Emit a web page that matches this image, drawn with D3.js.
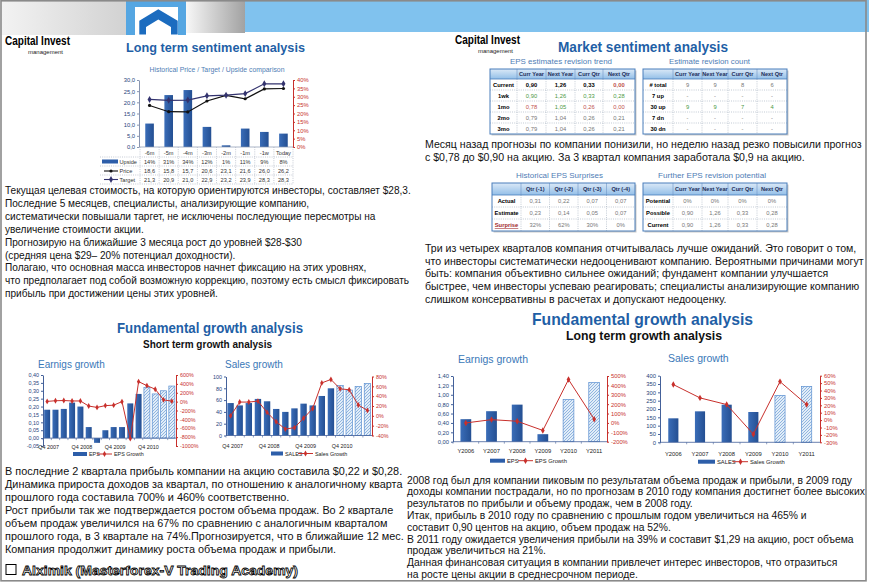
<!DOCTYPE html>
<html><head><meta charset="utf-8">
<script src="https://cdn.jsdelivr.net/npm/d3@7"></script>
<style>body{margin:0;background:#fff}svg{display:block}text{font-family:Arial,"Liberation Sans",sans-serif}</style>
</head><body><svg id="c" width="869" height="583"></svg>
<script>
// ================= DATA =================
// Long term sentiment (Historical Price / Target / Upside)
const sentCategories = ["-6m","-5m","-4m","-3m","-2m","-1m","-1w","Today"];
const sentUpside = [14,31,34,12,1,11,9,8];
const sentPrice = [18.6,15.8,15.7,20.6,23.1,21.6,26.0,26.2];
const sentTarget = [21.3,20.9,21.0,22.9,23.2,23.9,28.3,28.3];
const sentLeftTicks = [0,5,10,15,20,25,30];
const sentRightTicks = [0,5,10,15,20,25,30,35,40];

// Market sentiment tables
const revCols = ["Curr Year","Next Year","Curr Qtr","Next Qtr"];
const trendRows = ["Current","1wk","1mo","2mo","3mo"];
const trendValues = [[0.90,1.26,0.33,0.00],[0.90,1.26,0.33,0.28],[0.78,1.05,0.26,0.00],[0.79,1.04,0.26,0.21],[0.79,1.04,0.26,0.21]];
const countRows = ["# total","7 up","30 up","7 dn","30 dn"];
const countValues = [[9,9,8,6],[null,null,null,null],[9,9,7,4],[null,null,null,null],[null,null,null,null]];
const surpriseCols = ["Qtr (-1)","Qtr (-2)","Qtr (-3)","Qtr (-4)"];
const surpriseRows = ["Actual","Estimate","Surprise"];
const surpriseActual = [0.31,0.22,0.07,0.07];
const surpriseEstimate = [0.23,0.14,0.05,0.07];
const surprisePct = [32,62,30,0];
const potentialRows = ["Potential","Possible","Current"];
const potentialPct = [0,0,0,0];
const potentialPossible = [0.90,1.26,0.33,0.28];
const potentialCurrent = [0.90,1.26,0.33,0.28];

// Short term growth (quarterly)
const stQuarters = ["Q4 2007","Q1 2008","Q2 2008","Q3 2008","Q4 2008","Q1 2009","Q2 2009","Q3 2009","Q4 2009","Q1 2010","Q2 2010","Q3 2010","Q4 2010","Q1 2011","Q2 2011","Q3 2011"];
const stEps = [0.18,0.18,0.185,0.225,0.20,0.07,-0.03,0.05,0.07,0.07,0.22,0.28,0.32,0.28,0.30,0.33];
const stEpsGrowth = [5,20,25,15,15,-100,-130,-90,-80,0,-830,450,360,280,40,10];
const stSales = [55,51,55,62,58,45,40,46,54,51,67,80,85,77,83,88];
const stSalesGrowth = [0,28,28,30,7,-12,-27,-24,-5,15,67,74,55,53,22,11];
const stForecast = [false,false,false,false,false,false,false,false,false,false,false,false,true,true,true,true];
const stEpsLeftTicks = [-0.05,0,0.05,0.10,0.15,0.20,0.25,0.30,0.35,0.40];
const stEpsRightTicks = [-1000,-800,-600,-400,-200,0,200,400,600];
const stSalesLeftTicks = [0,20,40,60,80,100];
const stSalesRightTicks = [-40,-20,0,20,40,60,80];
const stLabelled = ["Q4 2007","Q4 2008","Q4 2009","Q4 2010"];

// Long term growth (yearly)
const ltYears = ["Y2006","Y2007","Y2008","Y2009","Y2010","Y2011"];
const ltEps = [0.48,0.65,0.79,0.16,0.90,1.26];
const ltEpsGrowth = [0,35,18,-80,462,40];
const ltSales = [144,186,226,182,282,336];
const ltSalesGrowth = [48,30,21,-19,52,21];
const ltForecast = [false,false,false,false,true,true];
const ltEpsLeftTicks = [0,0.2,0.4,0.6,0.8,1.0,1.2,1.4];
const ltEpsRightTicks = [-200,-100,0,100,200,300,400,500];
const ltSalesLeftTicks = [0,50,100,150,200,250,300,350,400];
const ltSalesRightTicks = [-30,-20,-10,0,10,20,30,40,50,60];

// Texts
const textSentiment = [
"Текущая целевая стоимость, на которую ориентируются инвесторы, составляет $28,3.",
"Последние 5 месяцев, специалисты, анализирующие компанию,",
"систематически повышали таргет, не исключены последующие пересмотры на",
"увеличение стоимости акции.",
"Прогнозирую на ближайшие 3 месяца рост до уровней $28-$30",
"(средняя цена $29– 20% потенциал доходности).",
"Полагаю, что основная масса инвесторов начнет фиксацию на этих уровнях,",
"что предполагает под собой возможную коррекцию, поэтому есть смысл фиксировать",
"прибыль при достижении цены этих уровней."];
const textRevision = [
"Месяц назад прогнозы по компании понизили, но неделю назад резко повысили прогноз",
"с $0,78 до $0,90 на акцию. За 3 квартал компания заработала $0,9 на акцию."];
const textSurprise = [
"Три из четырех кварталов компания отчитывалась лучше ожиданий. Это говорит о том,",
"что инвесторы систематически недооценивают компанию. Вероятными причинами могут",
"быть: компания объективно сильнее ожиданий; фундамент компании улучшается",
"быстрее, чем инвесторы успеваю реагировать; специалисты анализирующие компанию",
"слишком консервативны в расчетах и допускают недооценку."];
const textShortTerm = [
"В последние 2 квартала прибыль компании на акцию составила $0,22 и $0,28.",
"Динамика прироста доходов за квартал, по отношению к аналогичному кварта",
"прошлого года составила 700% и 460% соответственно.",
"Рост прибыли так же подтверждается ростом объема продаж. Во 2 квартале",
"объем продаж увеличился на 67% по сравнению с аналогичным кварталом",
"прошлого года, в 3 квартале на 74%.Прогнозируется, что в ближайшие 12 мес.",
"Компания продолжит динамику роста объема продаж и прибыли."];
const textLongTerm = [
"2008 год был для компании пиковым по результатам объема продаж и прибыли, в 2009 году",
"доходы компании пострадали, но по прогнозам в 2010 году компания достигнет более высоких",
"результатов по прибыли и объему продаж, чем в 2008 году.",
"Итак, прибыль в 2010 году по сравнению с прошлым годом увеличиться на 465% и",
"составит 0,90 центов на акцию, объем продаж на 52%.",
"В 2011 году ожидается увеличения прибыли на 39% и составит $1,29 на акцию, рост объема",
"продаж увеличиться на 21%.",
"Данная финансовая ситуация в компании привлечет интерес инвесторов, что отразиться",
"на росте цены акции в среднесрочном периоде."];
const signature = "Alximik (Masterforex-V Trading Academy)";

// ================= STYLE =================
const BAR = "#2d5ea9", RED = "#c8302c", NAVY = "#26437a", TITLE = "#1f5fa6", SUB = "#4f7db5";
const G = "#4c9a44", R = "#c0504d", N = "#777", K = "#000";
const trendTone = [[K,K,K,R],[G,G,G,G],[R,G,R,R],[N,N,N,N],[N,N,N,N]];

const fmt = spec => v => d3.format(spec)(v).replace("−","-").replace(".",",");
const pct = v => d3.format("d")(v).replace("−","-") + "%";

const svg = d3.select("#c");
const defs = svg.append("defs");
function lin(id, stops, x2, y2) {
  const g = defs.append("linearGradient").attr("id", id).attr("x1","0%").attr("y1","0%").attr("x2",x2).attr("y2",y2);
  stops.forEach(s => g.append("stop").attr("offset", s[0]).attr("stop-color", s[1]));
}
lin("gLeft", [["0%","#f3f3f3"],["100%","#d2d2d2"]], "100%", "0%");
lin("gMid", [["0%","#f7f7f7"],["100%","#a2a2a2"]], "100%", "0%");
lin("gHead", [["0%","#dbe9f7"],["100%","#93bfe8"]], "0%", "100%");
lin("gBar", [["0%","#3a6db8"],["100%","#244f92"]], "100%", "0%");
const pat = defs.append("pattern").attr("id","hatch").attr("patternUnits","userSpaceOnUse").attr("width",3).attr("height",3);
pat.append("rect").attr("width",3).attr("height",3).attr("fill","#e2edf8");
pat.append("path").attr("d","M0,3L3,0M-1,1L1,-1M2,4L4,2").attr("stroke","#7ba7d8").attr("stroke-width",0.8);

svg.append("rect").attr("width",869).attr("height",583).attr("fill","#fff");

// ---------- header ----------
svg.append("rect").attr("x",0).attr("y",0).attr("width",126).attr("height",35).attr("fill","url(#gLeft)");
svg.append("rect").attr("x",126).attr("y",0).attr("width",60).attr("height",35).attr("fill","#55a6e2");
svg.append("rect").attr("x",135).attr("y",7).attr("width",43).attr("height",28).attr("fill","#fff");
svg.append("polygon").attr("points","139.3,34.5 139.3,20.7 158.3,9.3 177.7,20.7 177.7,34.5 171,34.5 171,27 158.3,19.5 146,27 146,34.5").attr("fill","#1c6cbf");
svg.append("rect").attr("x",186).attr("y",0).attr("width",59).attr("height",33).attr("fill","url(#gMid)");
svg.append("rect").attr("x",245).attr("y",0).attr("width",624).attr("height",32).attr("fill","#80c2ee");

// frame
svg.append("rect").attr("x",1).attr("y",0.8).attr("width",865).attr("height",580).attr("fill","none").attr("stroke","#8a8a8a").attr("stroke-width",1.6);

// ---------- helpers ----------
function txt(s, x, y, size, opts = {}) {
  const t = svg.append("text").attr("x", x).attr("y", y).attr("font-size", size).text(s)
    .attr("fill", opts.fill || "#000").attr("font-weight", opts.bold ? "bold" : null)
    .attr("text-anchor", opts.anchor || "start");
  if (opts.width) t.attr("textLength", opts.width).attr("lengthAdjust", "spacingAndGlyphs");
  return t;
}
function block(lines, x, y0, lh, refIdx, targetW) {
  const t = svg.append("g").selectAll("text").data(lines).join("text")
    .attr("x", x).attr("y", (d, i) => y0 + i * lh).attr("font-size", 10).attr("fill", "#111").text(d => d);
  const w = t.nodes()[refIdx].getComputedTextLength();
  t.attr("font-size", 10 * targetW / w);
}
function logo(x, y) {
  txt("Capital Invest", x, y, 12, {bold: true, width: 65});
  txt("management", x + 23, y + 8.5, 6, {fill: "#222"});
}
function styleAxis(a, color, fs, lineColor) {
  a.attr("font-family", null).attr("font-size", fs);
  a.selectAll("text").attr("fill", color);
  a.selectAll("line").attr("stroke", lineColor);
  a.select(".domain").attr("stroke", lineColor);
}

// ---------- table ----------
function table(o) {
  const g = svg.append("g");
  const x0 = o.cx[0], x1 = o.cx[o.cx.length - 1], y0 = o.y, y1 = o.y + o.hh + o.rows.length * o.rh;
  g.append("rect").attr("x", x0 + 1.5).attr("y", y0 + 1.5).attr("width", x1 - x0).attr("height", y1 - y0).attr("fill", "#c9c9c9");
  g.append("rect").attr("x", x0).attr("y", y0).attr("width", x1 - x0).attr("height", y1 - y0).attr("fill", "#fff");
  g.append("rect").attr("x", x0).attr("y", y0).attr("width", x1 - x0).attr("height", o.hh).attr("fill", "url(#gHead)");
  o.rows.forEach((r, i) => {
    if (i > 0) g.append("line").attr("x1", x0).attr("x2", x1).attr("y1", y0 + o.hh + i * o.rh).attr("y2", y0 + o.hh + i * o.rh)
      .attr("stroke", "#9aa7b8").attr("stroke-width", 0.6).attr("stroke-dasharray", "1,1.2");
  });
  o.cx.slice(1, -1).forEach(cx => {
    g.append("line").attr("x1", cx).attr("x2", cx).attr("y1", y0).attr("y2", y0 + o.hh).attr("stroke", "#6f95c6").attr("stroke-width", 0.6);
    g.append("line").attr("x1", cx).attr("x2", cx).attr("y1", y0 + o.hh).attr("y2", y1).attr("stroke", "#9aa7b8").attr("stroke-width", 0.6).attr("stroke-dasharray", "1,1.2");
  });
  g.append("line").attr("x1", x0).attr("x2", x1).attr("y1", y0 + o.hh).attr("y2", y0 + o.hh).attr("stroke", "#4a7ebb").attr("stroke-width", 0.8);
  g.append("rect").attr("x", x0).attr("y", y0).attr("width", x1 - x0).attr("height", y1 - y0).attr("fill", "none").attr("stroke", "#4a7ebb").attr("stroke-width", 1);
  const mid = i => (o.cx[i] + o.cx[i + 1]) / 2;
  o.cols.forEach((c, j) => {
    g.append("text").attr("x", mid(j + 1)).attr("y", y0 + o.hh / 2 + 2).attr("text-anchor", "middle").attr("font-size", 5.6)
      .attr("font-weight", "bold").attr("fill", "#1f2f5a").text(c);
  });
  o.rows.forEach((r, i) => {
    const yc = y0 + o.hh + (i + 0.5) * o.rh + 2;
    const lt = g.append("text").attr("x", mid(0)).attr("y", yc).attr("text-anchor", "middle").attr("font-size", 5.8)
      .attr("font-weight", "bold").attr("fill", o.labelFill ? o.labelFill(i) : "#000").text(r);
    if (o.labelDeco && o.labelDeco(i)) lt.attr("text-decoration", "underline");
    o.cells[i].forEach((v, j) => {
      g.append("text").attr("x", mid(j + 1)).attr("y", yc).attr("text-anchor", "middle").attr("font-size", 5.8)
        .attr("font-weight", o.cellBold && o.cellBold(i, j) ? "bold" : null)
        .attr("fill", o.tone ? o.tone(i, j) : N).text(v);
    });
  });
}

// ---------- combo chart ----------
function combo(o) {
  const g = svg.append("g");
  const x = d3.scaleBand().domain(o.cats).range([o.x0, o.x1]).paddingInner(o.pad).paddingOuter(o.pad / 2);
  const yl = d3.scaleLinear().domain(o.lDom).range([o.yBot, o.yTop]);
  const yr = d3.scaleLinear().domain(o.rDom).range([o.yBot, o.yTop]);
  const bw = x.bandwidth();
  const cx = c => x(c) + bw / 2;
  g.selectAll("rect.bar").data(o.bars).join("rect").attr("class", "bar")
    .attr("x", (d, i) => x(o.cats[i])).attr("width", bw)
    .attr("y", d => Math.min(yl(d), yl(0))).attr("height", d => Math.abs(yl(d) - yl(0)))
    .attr("fill", (d, i) => o.forecast[i] ? "url(#hatch)" : "url(#gBar)")
    .attr("stroke", (d, i) => o.forecast[i] ? "#5b8fd0" : "none").attr("stroke-width", 0.7);
  const la = g.append("g").attr("transform", `translate(${o.x0},0)`)
    .call(d3.axisLeft(yl).tickValues(o.lTicks).tickFormat(o.lFmt).tickSize(2).tickSizeOuter(0).tickPadding(2));
  styleAxis(la, NAVY, o.fs, "#44619a");
  const ra = g.append("g").attr("transform", `translate(${o.x1},0)`)
    .call(d3.axisRight(yr).tickValues(o.rTicks).tickFormat(o.rFmt).tickSize(2).tickSizeOuter(0).tickPadding(2));
  styleAxis(ra, RED, o.fs, RED);
  g.append("line").attr("x1", o.x0).attr("x2", o.x1).attr("y1", yl(0)).attr("y2", yl(0)).attr("stroke", "#44619a").attr("stroke-width", 0.8);
  g.selectAll("line.xt").data(o.cats).join("line").attr("class", "xt")
    .attr("x1", c => x(c) - x.step() * o.pad / 2).attr("x2", c => x(c) - x.step() * o.pad / 2)
    .attr("y1", yl(0)).attr("y2", yl(0) + 2).attr("stroke", "#44619a").attr("stroke-width", 0.6);
  g.selectAll("text.xl").data(o.cats.filter(o.showLabel)).join("text").attr("class", "xl")
    .attr("x", c => cx(c) + (o.labelDx || 0)).attr("y", o.labelY).attr("text-anchor", "middle").attr("font-size", o.fs).attr("fill", "#222").text(c => c);
  g.append("path").datum(o.line).attr("fill", "none").attr("stroke", RED).attr("stroke-width", 1)
    .attr("d", d3.line().x((d, i) => cx(o.cats[i])).y(d => yr(d)));
  g.selectAll("path.mk").data(o.line).join("path").attr("class", "mk")
    .attr("transform", (d, i) => `translate(${cx(o.cats[i])},${yr(d)})`)
    .attr("d", d3.symbol(d3.symbolDiamond, o.mk)).attr("fill", RED);
  txt(o.title, o.tx, o.ty, o.tfs, {fill: "#3a78b8"});
  const L = o.leg;
  g.append("rect").attr("x", L.x).attr("y", L.y - 2).attr("width", L.sw).attr("height", 4).attr("fill", BAR);
  g.append("text").attr("x", L.x + L.sw + 2).attr("y", L.y + 2).attr("font-size", o.fs).attr("fill", "#222").text(L.bar);
  g.append("line").attr("x1", L.lx).attr("x2", L.lx + L.lw).attr("y1", L.y).attr("y2", L.y).attr("stroke", RED).attr("stroke-width", 1);
  g.append("path").attr("transform", `translate(${L.lx + L.lw / 2},${L.y})`).attr("d", d3.symbol(d3.symbolDiamond, o.mk)).attr("fill", RED);
  g.append("text").attr("x", L.lx + L.lw + 2).attr("y", L.y + 2).attr("font-size", o.fs).attr("fill", "#222").text(L.line);
}

// ================= LEFT TOP: sentiment =================
logo(5, 45);
txt("Long term sentiment analysis", 126, 51.5, 13.5, {bold: true, fill: TITLE, width: 179});
txt("Historical Price / Target / Upside comparison", 217, 71.5, 6.3, {fill: SUB, anchor: "middle", width: 135});
(function () {
  const g = svg.append("g");
  const x = d3.scaleBand().domain(sentCategories).range([140, 293]).paddingInner(0.55).paddingOuter(0.275);
  const yl = d3.scaleLinear().domain([0, 30]).range([147, 80]);
  const yr = d3.scaleLinear().domain([0, 40]).range([147, 80]);
  const bw = x.bandwidth(), st = x.step();
  const cx = c => x(c) + bw / 2;
  const left = c => x(c) - st * 0.275;
  g.selectAll("rect").data(sentUpside).join("rect")
    .attr("x", (d, i) => x(sentCategories[i])).attr("width", bw)
    .attr("y", d => yr(d)).attr("height", d => yr(0) - yr(d)).attr("fill", "url(#gBar)");
  const la = g.append("g").attr("transform", "translate(139,0)")
    .call(d3.axisLeft(yl).tickValues(sentLeftTicks).tickFormat(fmt(".1f")).tickSize(2).tickSizeOuter(0).tickPadding(2));
  styleAxis(la, NAVY, 5.8, "#8895b0");
  const ra = g.append("g").attr("transform", "translate(293,0)")
    .call(d3.axisRight(yr).tickValues(sentRightTicks).tickFormat(pct).tickSize(2).tickSizeOuter(0).tickPadding(2));
  styleAxis(ra, RED, 5.8, RED);
  g.append("path").datum(sentPrice).attr("fill", "none").attr("stroke", "#111").attr("stroke-width", 1.2)
    .attr("d", d3.line().x((d, i) => cx(sentCategories[i])).y(d => yl(d)));
  g.selectAll("circle.p").data(sentPrice).join("circle").attr("class", "p")
    .attr("cx", (d, i) => cx(sentCategories[i])).attr("cy", d => yl(d)).attr("r", 1.6).attr("fill", "#111");
  g.append("path").datum(sentTarget).attr("fill", "none").attr("stroke", "#33336e").attr("stroke-width", 1.2)
    .attr("d", d3.line().x((d, i) => cx(sentCategories[i])).y(d => yl(d)));
  g.selectAll("path.t").data(sentTarget).join("path").attr("class", "t")
    .attr("transform", (d, i) => `translate(${cx(sentCategories[i])},${yl(d)})`)
    .attr("d", d3.symbol(d3.symbolDiamond, 14)).attr("fill", "#33336e");
  g.append("line").attr("x1", 140).attr("x2", 293).attr("y1", 147).attr("y2", 147).attr("stroke", "#8895b0").attr("stroke-width", 0.7);
  const bounds = sentCategories.map(left).concat([293]);
  g.selectAll("line.v").data(bounds).join("line").attr("class", "v")
    .attr("x1", d => d).attr("x2", d => d).attr("y1", 147).attr("y2", 184)
    .attr("stroke", "#a0a8b8").attr("stroke-width", 0.6).attr("stroke-dasharray", "1,1.2");
  [157, 166, 175, 184].forEach(yy => g.append("line").attr("x1", 100).attr("x2", 293).attr("y1", yy).attr("y2", yy)
    .attr("stroke", "#a0a8b8").attr("stroke-width", 0.6).attr("stroke-dasharray", "1,1.2"));
  g.selectAll("text.c").data(sentCategories).join("text").attr("class", "c")
    .attr("x", cx).attr("y", 154.5).attr("text-anchor", "middle").attr("font-size", 5.6).attr("fill", "#333").text(d => d);
  const rows = [[sentUpside, pct, 164], [sentPrice, fmt(".1f"), 173], [sentTarget, fmt(".1f"), 181.5]];
  rows.forEach(([arr, f, yy]) => {
    g.selectAll(null).data(arr).join("text").attr("x", (d, i) => cx(sentCategories[i])).attr("y", yy)
      .attr("text-anchor", "middle").attr("font-size", 5.6).attr("fill", "#333").text(f);
  });
  g.append("rect").attr("x", 102).attr("y", 159.5).attr("width", 16).attr("height", 4).attr("fill", BAR);
  g.append("text").attr("x", 119.5).attr("y", 164).attr("font-size", 5.6).attr("fill", "#333").text("Upside");
  g.append("line").attr("x1", 104).attr("x2", 118).attr("y1", 171).attr("y2", 171).attr("stroke", "#111").attr("stroke-width", 1.1);
  g.append("circle").attr("cx", 111).attr("cy", 171).attr("r", 1.6).attr("fill", "#111");
  g.append("text").attr("x", 119.5).attr("y", 173).attr("font-size", 5.6).attr("fill", "#333").text("Price");
  g.append("line").attr("x1", 104).attr("x2", 118).attr("y1", 179.5).attr("y2", 179.5).attr("stroke", "#33336e").attr("stroke-width", 1.1);
  g.append("path").attr("transform", "translate(111,179.5)").attr("d", d3.symbol(d3.symbolDiamond, 14)).attr("fill", "#33336e");
  g.append("text").attr("x", 119.5).attr("y", 181.5).attr("font-size", 5.6).attr("fill", "#333").text("Target");
})();
block(textSentiment, 5, 194, 12.9, 0, 406);

// ================= RIGHT TOP: market sentiment =================
logo(455, 44);
txt("Market sentiment analysis", 558, 51.5, 15, {bold: true, fill: TITLE, width: 170});
txt("EPS estimates revision trend", 510, 63.5, 8, {fill: SUB, width: 102});
txt("Estimate revision count", 669, 63.5, 8, {fill: SUB, width: 81});
const f2 = fmt(".2f");
table({cx: [490, 517, 546, 575, 603, 635], y: 69, hh: 10, rh: 11, cols: revCols, rows: trendRows,
  cells: trendValues.map(r => r.map(f2)), tone: (i, j) => trendTone[i][j], cellBold: i => i === 0});
table({cx: [643, 673, 702, 728, 757, 787], y: 69, hh: 10, rh: 11, cols: revCols, rows: countRows,
  cells: countValues.map(r => r.map(v => v == null ? "-" : String(v))), tone: (i) => i === 2 ? G : N});
block(textRevision, 425, 147.5, 13.3, 0, 437);
txt("Historical EPS Surprises", 516, 178, 8, {fill: SUB, width: 87});
txt("Further EPS revision potential", 658, 178, 8, {fill: SUB, width: 108});
table({cx: [492, 521, 549.5, 578, 606.5, 635], y: 183, hh: 12, rh: 12, cols: surpriseCols, rows: surpriseRows,
  cells: [surpriseActual.map(f2), surpriseEstimate.map(f2), surprisePct.map(pct)],
  labelFill: i => i === 2 ? "#a0282a" : "#000", labelDeco: i => i === 2});
table({cx: [643, 673, 702, 728, 757, 787], y: 183, hh: 12, rh: 12, cols: revCols, rows: potentialRows,
  cells: [potentialPct.map(pct), potentialPossible.map(f2), potentialCurrent.map(f2)]});
block(textSurprise, 425, 252, 12.7, 1, 439);

// ================= BOTTOM LEFT: short term =================
txt("Fundamental growth analysis", 117, 333, 14, {bold: true, fill: TITLE, width: 186});
txt("Short term growth analysis", 143, 348, 11, {bold: true, fill: "#111", width: 129});
combo({cats: stQuarters, bars: stEps, line: stEpsGrowth, forecast: stForecast,
  x0: 43, x1: 176, yTop: 375, yBot: 446, lDom: [-0.05, 0.40], rDom: [-1000, 600],
  lTicks: stEpsLeftTicks, rTicks: stEpsRightTicks, lFmt: fmt(".2f"), rFmt: pct, pad: 0.28, fs: 5.4, mk: 10,
  showLabel: c => stLabelled.includes(c), labelY: 449, labelDx: 1.5,
  title: "Earnigs growth", tx: 38, ty: 368, tfs: 10,
  leg: {x: 73, y: 454, sw: 14, bar: "EPS", lx: 97, lw: 15, line: "EPS Growth"}});
combo({cats: stQuarters, bars: stSales, line: stSalesGrowth, forecast: stForecast,
  x0: 226, x1: 372, yTop: 376.5, yBot: 435.5, lDom: [0, 100], rDom: [-40, 80],
  lTicks: stSalesLeftTicks, rTicks: stSalesRightTicks, lFmt: d3.format("d"), rFmt: pct, pad: 0.3, fs: 5.4, mk: 10,
  showLabel: c => stLabelled.includes(c), labelY: 448, labelDx: 2,
  title: "Sales growth", tx: 225, ty: 368, tfs: 10,
  leg: {x: 271, y: 453.5, sw: 12, bar: "SALES", lx: 298, lw: 15, line: "Sales Growth"}});
block(textShortTerm, 5, 475, 13, 5, 399);
svg.append("rect").attr("x", 6).attr("y", 564.5).attr("width", 10).attr("height", 10).attr("fill", "none").attr("stroke", "#000").attr("stroke-width", 1);
svg.append("text").attr("x", 22).attr("y", 575).attr("font-size", 13).attr("font-family", "'DejaVu Sans',sans-serif")
  .attr("font-weight", "bold").attr("fill", "#fff").attr("stroke", "#000").attr("stroke-width", 0.8)
  .attr("textLength", 276).attr("lengthAdjust", "spacingAndGlyphs").text(signature);

// ================= BOTTOM RIGHT: long term =================
txt("Fundamental growth analysis", 532, 325, 16.5, {bold: true, fill: TITLE, width: 221});
txt("Long term growth analysis", 566, 340, 12.5, {bold: true, fill: "#111", width: 156});
combo({cats: ltYears, bars: ltEps, line: ltEpsGrowth, forecast: ltForecast,
  x0: 453, x1: 607, yTop: 376, yBot: 441.7, lDom: [0, 1.4], rDom: [-200, 500],
  lTicks: ltEpsLeftTicks, rTicks: ltEpsRightTicks, lFmt: fmt(".2f"), rFmt: pct, pad: 0.58, fs: 5.8, mk: 12,
  showLabel: () => true, labelY: 453,
  title: "Earnigs growth", tx: 458, ty: 362.5, tfs: 10.5,
  leg: {x: 490, y: 460.7, sw: 15, bar: "EPS", lx: 518, lw: 15, line: "EPS Growth"}});
combo({cats: ltYears, bars: ltSales, line: ltSalesGrowth, forecast: ltForecast,
  x0: 660, x1: 820, yTop: 375.7, yBot: 442.3, lDom: [0, 400], rDom: [-30, 60],
  lTicks: ltSalesLeftTicks, rTicks: ltSalesRightTicks, lFmt: d3.format("d"), rFmt: pct, pad: 0.62, fs: 5.8, mk: 12,
  showLabel: () => true, labelY: 455.5,
  title: "Sales growth", tx: 668, ty: 362, tfs: 10.5,
  leg: {x: 698, y: 461.7, sw: 17, bar: "SALES", lx: 733, lw: 15, line: "Sales Growth"}});
block(textLongTerm, 407, 483.5, 11.8, 1, 458);
</script></body></html>
